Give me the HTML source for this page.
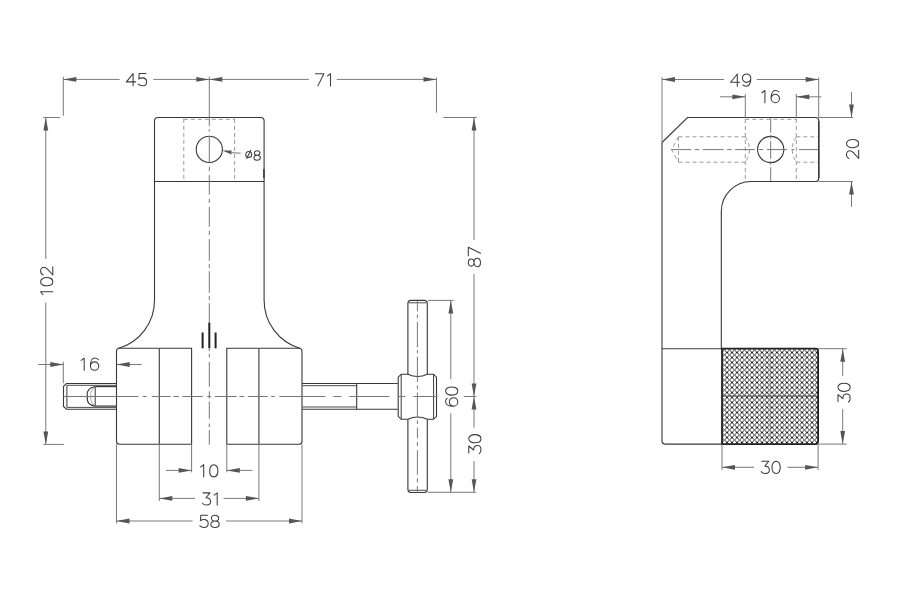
<!DOCTYPE html>
<html><head><meta charset="utf-8"><style>
html,body{margin:0;padding:0;background:#fff;width:900px;height:600px;overflow:hidden}
svg{display:block;will-change:transform;font-family:"Liberation Sans",sans-serif}
</style></head><body>
<svg width="900" height="600" viewBox="0 0 900 600">
<rect width="900" height="600" fill="#fff"/>
<path d="M154.5,300 L154.5,121.0 Q154.5,117.5 158.0,117.5 L260.6,117.5 Q264.1,117.5 264.1,121.0 L264.1,300" fill="none" stroke="#383838" stroke-width="1.1"/>
<line x1="154.5" y1="181.5" x2="264.1" y2="181.5" stroke="#383838" stroke-width="1.1"/>
<line x1="263.90000000000003" y1="169" x2="263.90000000000003" y2="178" stroke="#333" stroke-width="1.4"/>
<path d="M154.5,300 A50,50 0 0 1 118.7,348.3" fill="none" stroke="#383838" stroke-width="1.1"/>
<path d="M264.1,300 A50,50 0 0 0 299.9,348.3" fill="none" stroke="#383838" stroke-width="1.1"/>
<line x1="183.8" y1="118.9" x2="183.8" y2="181" stroke="#999" stroke-width="1.0" stroke-dasharray="4 3" stroke-dashoffset="0"/>
<line x1="234.6" y1="118.9" x2="234.6" y2="181" stroke="#999" stroke-width="1.0" stroke-dasharray="4 3" stroke-dashoffset="0"/>
<line x1="183.8" y1="119.3" x2="234.6" y2="119.3" stroke="#999" stroke-width="1.0" stroke-dasharray="4 3" stroke-dashoffset="0"/>
<circle cx="209.3" cy="149.4" r="13.1" fill="none" stroke="#383838" stroke-width="1.1"/>
<path d="M159.3,348.3 L119.5,348.3 Q116.5,348.3 116.5,351.3 L116.5,441.3 Q116.5,444.3 119.5,444.3 L159.3,444.3" fill="none" stroke="#383838" stroke-width="1.1"/>
<line x1="159.3" y1="348.3" x2="159.3" y2="444.3" stroke="#383838" stroke-width="1.1"/>
<path d="M159.3,348.3 L191.6,348.3 L191.6,444.3 L159.3,444.3" fill="none" stroke="#383838" stroke-width="1.1"/>
<path d="M258.9,348.3 L226.8,348.3 L226.8,444.3 L258.9,444.3" fill="none" stroke="#383838" stroke-width="1.1"/>
<line x1="258.9" y1="348.3" x2="258.9" y2="444.3" stroke="#383838" stroke-width="1.1"/>
<path d="M258.9,348.3 L299,348.3 Q302,348.3 302,351.3 L302,441.3 Q302,444.3 299,444.3 L258.9,444.3" fill="none" stroke="#383838" stroke-width="1.1"/>
<line x1="202.6" y1="332.5" x2="202.6" y2="348.3" stroke="#222" stroke-width="2.0"/>
<line x1="209.3" y1="322.5" x2="209.3" y2="348.3" stroke="#222" stroke-width="2.0"/>
<line x1="215.6" y1="332.5" x2="215.6" y2="348.3" stroke="#222" stroke-width="2.0"/>
<path d="M116.5,383.5 L66.5,383.5 L63.5,386.3 L63.5,406.4 L66.5,409.2 L116.5,409.2" fill="none" stroke="#383838" stroke-width="1.1"/>
<line x1="66.9" y1="385.3" x2="66.9" y2="407.3" stroke="#383838" stroke-width="1.0"/>
<line x1="66.9" y1="385.3" x2="116.5" y2="385.3" stroke="#4a4a4a" stroke-width="1.0"/>
<line x1="66.9" y1="407.4" x2="116.5" y2="407.4" stroke="#4a4a4a" stroke-width="1.0"/>
<line x1="95.2" y1="386.6" x2="116.5" y2="386.6" stroke="#383838" stroke-width="1.2"/>
<line x1="95.2" y1="406.1" x2="116.5" y2="406.1" stroke="#383838" stroke-width="1.2"/>
<line x1="95.2" y1="386.6" x2="95.2" y2="406.1" stroke="#383838" stroke-width="1.0"/>
<path d="M95.2,386.6 Q86,388 87.4,396.4 Q86,405 95.2,406.1" fill="none" stroke="#383838" stroke-width="1.1"/>
<path d="M95.2,387 Q90,390 90.8,396.4 Q90,403 95.2,405.8" fill="none" stroke="#999" stroke-width="0.8"/>
<path d="M302,383.5 L397.8,383.5" fill="none" stroke="#383838" stroke-width="1.1"/>
<path d="M302,409.2 L397.8,409.2" fill="none" stroke="#383838" stroke-width="1.1"/>
<line x1="302" y1="385.7" x2="356.7" y2="385.7" stroke="#4a4a4a" stroke-width="1.0"/>
<line x1="302" y1="407.0" x2="356.7" y2="407.0" stroke="#4a4a4a" stroke-width="1.0"/>
<line x1="356.7" y1="383.5" x2="356.7" y2="409.2" stroke="#383838" stroke-width="1.1"/>
<path d="M407.9,374.2 L407.9,303.4 Q407.9,300.4 410.9,300.4 L424.3,300.4 Q427.3,300.4 427.3,303.4 L427.3,374.2" fill="none" stroke="#383838" stroke-width="1.1"/>
<line x1="408.9" y1="302.8" x2="426.3" y2="302.8" stroke="#383838" stroke-width="0.9"/>
<path d="M407.9,419.3 L407.9,489.5 Q407.9,492.5 410.9,492.5 L424.3,492.5 Q427.3,492.5 427.3,489.5 L427.3,419.3" fill="none" stroke="#383838" stroke-width="1.1"/>
<line x1="408.9" y1="490.3" x2="426.3" y2="490.3" stroke="#383838" stroke-width="0.9"/>
<path d="M401.2,374.2 L407.9,374.2 Q417.6,378.8 427.3,374.2 L433.5,374.2 L436.5,377.2 L436.5,416.3 L433.5,419.3 L427.3,419.3 Q417.6,414.7 407.9,419.3 L401.2,419.3 L398.2,416.3 L398.2,377.2 Z" fill="none" stroke="#383838" stroke-width="1.1"/>
<line x1="401.2" y1="374.7" x2="401.2" y2="418.8" stroke="#383838" stroke-width="1.0"/>
<line x1="433.6" y1="374.7" x2="433.6" y2="418.8" stroke="#383838" stroke-width="1.0"/>
<line x1="209.3" y1="76.7" x2="209.3" y2="117.5" stroke="#7a7a7a" stroke-width="1.0"/>
<line x1="209.3" y1="117.5" x2="209.3" y2="126.2" stroke="#777" stroke-width="1.0"/>
<line x1="209.3" y1="129.2" x2="209.3" y2="131.7" stroke="#777" stroke-width="1.0"/>
<line x1="209.3" y1="136" x2="209.3" y2="162.2" stroke="#777" stroke-width="1.0"/>
<line x1="209.3" y1="166.7" x2="209.3" y2="171.2" stroke="#777" stroke-width="1.0"/>
<line x1="209.3" y1="175" x2="209.3" y2="194.6" stroke="#777" stroke-width="1.0"/>
<line x1="209.3" y1="198.75" x2="209.3" y2="202.9" stroke="#777" stroke-width="1.0"/>
<line x1="209.3" y1="207" x2="209.3" y2="226.7" stroke="#777" stroke-width="1.0"/>
<line x1="209.3" y1="230.8" x2="209.3" y2="235" stroke="#777" stroke-width="1.0"/>
<line x1="209.3" y1="239.2" x2="209.3" y2="260.7" stroke="#777" stroke-width="1.0"/>
<line x1="209.3" y1="264" x2="209.3" y2="268" stroke="#777" stroke-width="1.0"/>
<line x1="209.3" y1="271.3" x2="209.3" y2="292.7" stroke="#777" stroke-width="1.0"/>
<line x1="209.3" y1="296" x2="209.3" y2="300" stroke="#777" stroke-width="1.0"/>
<line x1="209.3" y1="303.3" x2="209.3" y2="322" stroke="#777" stroke-width="1.0"/>
<line x1="209.3" y1="348.3" x2="209.3" y2="351" stroke="#777" stroke-width="1.0"/>
<line x1="209.3" y1="353.8" x2="209.3" y2="357.4" stroke="#777" stroke-width="1.0"/>
<line x1="209.3" y1="362" x2="209.3" y2="386.8" stroke="#777" stroke-width="1.0"/>
<line x1="209.3" y1="391.4" x2="209.3" y2="398.7" stroke="#777" stroke-width="1.0"/>
<line x1="209.3" y1="401.5" x2="209.3" y2="418.9" stroke="#777" stroke-width="1.0"/>
<line x1="209.3" y1="423.5" x2="209.3" y2="427.2" stroke="#777" stroke-width="1.0"/>
<line x1="209.3" y1="430" x2="209.3" y2="444.6" stroke="#777" stroke-width="1.0"/>
<line x1="63.5" y1="396.5" x2="138.3" y2="396.5" stroke="#777" stroke-width="1.0"/>
<line x1="142.8" y1="396.5" x2="146.7" y2="396.5" stroke="#777" stroke-width="1.0"/>
<line x1="151.7" y1="396.5" x2="170.6" y2="396.5" stroke="#777" stroke-width="1.0"/>
<line x1="173.3" y1="396.5" x2="178.9" y2="396.5" stroke="#777" stroke-width="1.0"/>
<line x1="182.2" y1="396.5" x2="202.8" y2="396.5" stroke="#777" stroke-width="1.0"/>
<line x1="207.2" y1="396.5" x2="211.1" y2="396.5" stroke="#777" stroke-width="1.0"/>
<line x1="215" y1="396.5" x2="236.7" y2="396.5" stroke="#777" stroke-width="1.0"/>
<line x1="239.4" y1="396.5" x2="243.9" y2="396.5" stroke="#777" stroke-width="1.0"/>
<line x1="247.8" y1="396.5" x2="267.8" y2="396.5" stroke="#777" stroke-width="1.0"/>
<line x1="271.1" y1="396.5" x2="275" y2="396.5" stroke="#777" stroke-width="1.0"/>
<line x1="279.4" y1="396.5" x2="325.3" y2="396.5" stroke="#777" stroke-width="1.0"/>
<line x1="333.3" y1="396.5" x2="341.3" y2="396.5" stroke="#777" stroke-width="1.0"/>
<line x1="349.3" y1="396.5" x2="389.3" y2="396.5" stroke="#777" stroke-width="1.0"/>
<line x1="398.7" y1="396.5" x2="405.3" y2="396.5" stroke="#777" stroke-width="1.0"/>
<line x1="413.3" y1="396.5" x2="437.3" y2="396.5" stroke="#777" stroke-width="1.0"/>
<line x1="417.4" y1="300.7" x2="417.4" y2="311.3" stroke="#777" stroke-width="1.0"/>
<line x1="417.4" y1="314.7" x2="417.4" y2="318" stroke="#777" stroke-width="1.0"/>
<line x1="417.4" y1="322" x2="417.4" y2="347.3" stroke="#777" stroke-width="1.0"/>
<line x1="417.4" y1="350" x2="417.4" y2="353.3" stroke="#777" stroke-width="1.0"/>
<line x1="417.4" y1="356.7" x2="417.4" y2="382" stroke="#777" stroke-width="1.0"/>
<line x1="417.4" y1="385.5" x2="417.4" y2="389" stroke="#777" stroke-width="1.0"/>
<line x1="417.4" y1="392.5" x2="417.4" y2="417" stroke="#777" stroke-width="1.0"/>
<line x1="417.4" y1="420.5" x2="417.4" y2="424" stroke="#777" stroke-width="1.0"/>
<line x1="417.4" y1="427.5" x2="417.4" y2="438.4" stroke="#777" stroke-width="1.0"/>
<line x1="417.4" y1="441.9" x2="417.4" y2="446.1" stroke="#777" stroke-width="1.0"/>
<line x1="417.4" y1="450.3" x2="417.4" y2="474.8" stroke="#777" stroke-width="1.0"/>
<line x1="417.4" y1="478.3" x2="417.4" y2="482.5" stroke="#777" stroke-width="1.0"/>
<line x1="417.4" y1="486" x2="417.4" y2="493" stroke="#777" stroke-width="1.0"/>
<line x1="63.3" y1="76.7" x2="63.3" y2="115.8" stroke="#7a7a7a" stroke-width="1.0"/>
<line x1="436.5" y1="77.6" x2="436.5" y2="112.6" stroke="#7a7a7a" stroke-width="1.0"/>
<line x1="63.3" y1="79.4" x2="119.7" y2="79.4" stroke="#7a7a7a" stroke-width="1.0"/>
<line x1="153.3" y1="79.4" x2="308.9" y2="79.4" stroke="#7a7a7a" stroke-width="1.0"/>
<line x1="336.7" y1="79.4" x2="436.5" y2="79.4" stroke="#7a7a7a" stroke-width="1.0"/>
<polygon points="63.30,79.40 76.30,77.00 76.30,81.80" fill="#555"/>
<polygon points="209.30,79.40 196.30,77.00 196.30,81.80" fill="#555"/>
<polygon points="209.30,79.40 222.30,77.00 222.30,81.80" fill="#555"/>
<polygon points="436.50,79.40 423.50,77.00 423.50,81.80" fill="#555"/>
<g transform="translate(126.40,73.58) scale(1.0)" fill="none" stroke="#3c3c3c" stroke-width="1.050" stroke-linecap="round" stroke-linejoin="round"><path transform="translate(0.00,0)" d="M6.7,12.2 L6.7,0 L0,8.3 L9.2,8.3"/><path transform="translate(11.80,0)" d="M7.8,0 L1.0,0 L0.6,5.4 C1.6,4.6 2.8,4.3 4.2,4.3 C6.6,4.3 8.4,6.0 8.4,8.3 C8.4,10.6 6.6,12.2 4.3,12.2 C2.6,12.2 1.0,11.6 0,10.6"/></g>
<g transform="translate(315.50,73.68) scale(1.0)" fill="none" stroke="#3c3c3c" stroke-width="1.050" stroke-linecap="round" stroke-linejoin="round"><path transform="translate(0.00,0)" d="M0,0 L8.4,0 L2.4,12.2"/><path transform="translate(12.00,0)" d="M0,2.3 L3.0,0 L3.0,12.2"/></g>
<line x1="43.3" y1="117.5" x2="60" y2="117.5" stroke="#7a7a7a" stroke-width="1.0"/>
<line x1="43.3" y1="444.4" x2="63.9" y2="444.4" stroke="#7a7a7a" stroke-width="1.0"/>
<line x1="45.8" y1="117.5" x2="45.8" y2="259" stroke="#7a7a7a" stroke-width="1.0"/>
<line x1="45.8" y1="302.5" x2="45.8" y2="444.4" stroke="#7a7a7a" stroke-width="1.0"/>
<polygon points="45.80,117.50 43.40,130.50 48.20,130.50" fill="#555"/>
<polygon points="45.80,444.40 43.40,431.40 48.20,431.40" fill="#555"/>
<g transform="translate(53.30,280.80) rotate(-90) translate(-14.00,-12.72) scale(1.0)" fill="none" stroke="#3c3c3c" stroke-width="1.050" stroke-linecap="round" stroke-linejoin="round"><path transform="translate(0.00,0)" d="M0,2.3 L3.0,0 L3.0,12.2"/><path transform="translate(9.00,0)" d="M4.1,0 C1.6,0 0,2.6 0,6.1 C0,9.6 1.6,12.2 4.1,12.2 C6.6,12.2 8.2,9.6 8.2,6.1 C8.2,2.6 6.6,0 4.1,0 Z"/><path transform="translate(19.80,0)" d="M0.1,2.6 C0.6,0.9 2.2,0 4.0,0 C6.2,0 7.8,1.4 7.8,3.3 C7.8,4.7 6.9,5.8 5.8,6.9 L0,12.2 L8.2,12.2"/></g>
<line x1="38.3" y1="364.5" x2="63.3" y2="364.5" stroke="#7a7a7a" stroke-width="1.0"/>
<line x1="63.3" y1="361.7" x2="63.3" y2="383.3" stroke="#7a7a7a" stroke-width="1.0"/>
<line x1="116.7" y1="364.5" x2="141.7" y2="364.5" stroke="#7a7a7a" stroke-width="1.0"/>
<polygon points="63.30,364.50 50.30,362.10 50.30,366.90" fill="#555"/>
<polygon points="116.70,364.50 129.70,362.10 129.70,366.90" fill="#555"/>
<g transform="translate(81.20,358.07) scale(1.0)" fill="none" stroke="#3c3c3c" stroke-width="1.050" stroke-linecap="round" stroke-linejoin="round"><path transform="translate(0.00,0)" d="M0,2.3 L3.0,0 L3.0,12.2"/><path transform="translate(9.00,0)" d="M8.0,1.5 C7.2,0.5 6.0,0 4.6,0 C1.8,0 0.2,3.0 0.2,7.9 M4.4,3.8 C2.1,3.8 0.2,5.7 0.2,8.0 C0.2,10.3 2.1,12.2 4.4,12.2 C6.7,12.2 8.6,10.3 8.6,8.0 C8.6,5.7 6.7,3.8 4.4,3.8 Z"/></g>
<line x1="191.6" y1="444.3" x2="191.6" y2="472.4" stroke="#7a7a7a" stroke-width="1.0"/>
<line x1="226.8" y1="444.3" x2="226.8" y2="472.4" stroke="#7a7a7a" stroke-width="1.0"/>
<line x1="166" y1="470.4" x2="191.6" y2="470.4" stroke="#7a7a7a" stroke-width="1.0"/>
<line x1="226.8" y1="470.4" x2="252.5" y2="470.4" stroke="#7a7a7a" stroke-width="1.0"/>
<polygon points="191.60,470.40 178.60,468.00 178.60,472.80" fill="#555"/>
<polygon points="226.80,470.40 239.80,468.00 239.80,472.80" fill="#555"/>
<g transform="translate(200.70,464.67) scale(1.0)" fill="none" stroke="#3c3c3c" stroke-width="1.050" stroke-linecap="round" stroke-linejoin="round"><path transform="translate(0.00,0)" d="M0,2.3 L3.0,0 L3.0,12.2"/><path transform="translate(9.00,0)" d="M4.1,0 C1.6,0 0,2.6 0,6.1 C0,9.6 1.6,12.2 4.1,12.2 C6.6,12.2 8.2,9.6 8.2,6.1 C8.2,2.6 6.6,0 4.1,0 Z"/></g>
<line x1="159.3" y1="444.3" x2="159.3" y2="501" stroke="#7a7a7a" stroke-width="1.0"/>
<line x1="258.9" y1="444.3" x2="258.9" y2="501" stroke="#7a7a7a" stroke-width="1.0"/>
<line x1="159.3" y1="498.4" x2="195" y2="498.4" stroke="#7a7a7a" stroke-width="1.0"/>
<line x1="223.5" y1="498.4" x2="258.9" y2="498.4" stroke="#7a7a7a" stroke-width="1.0"/>
<polygon points="159.30,498.40 172.30,496.00 172.30,500.80" fill="#555"/>
<polygon points="258.90,498.40 245.90,496.00 245.90,500.80" fill="#555"/>
<g transform="translate(202.40,492.88) scale(1.0)" fill="none" stroke="#3c3c3c" stroke-width="1.050" stroke-linecap="round" stroke-linejoin="round"><path transform="translate(0.00,0)" d="M0.6,0 L7.6,0 L3.6,4.9 C6.3,4.9 8.2,6.5 8.2,8.7 C8.2,10.8 6.4,12.2 4.2,12.2 C2.4,12.2 0.9,11.5 0,10.4"/><path transform="translate(11.80,0)" d="M0,2.3 L3.0,0 L3.0,12.2"/></g>
<line x1="116.5" y1="444.3" x2="116.5" y2="523.4" stroke="#7a7a7a" stroke-width="1.0"/>
<line x1="302" y1="444.3" x2="302" y2="523.4" stroke="#7a7a7a" stroke-width="1.0"/>
<line x1="116.5" y1="521" x2="192.6" y2="521" stroke="#7a7a7a" stroke-width="1.0"/>
<line x1="226" y1="521" x2="302" y2="521" stroke="#7a7a7a" stroke-width="1.0"/>
<polygon points="116.50,521.00 129.50,518.60 129.50,523.40" fill="#555"/>
<polygon points="302.00,521.00 289.00,518.60 289.00,523.40" fill="#555"/>
<g transform="translate(199.80,515.27) scale(1.0)" fill="none" stroke="#3c3c3c" stroke-width="1.050" stroke-linecap="round" stroke-linejoin="round"><path transform="translate(0.00,0)" d="M7.8,0 L1.0,0 L0.6,5.4 C1.6,4.6 2.8,4.3 4.2,4.3 C6.6,4.3 8.4,6.0 8.4,8.3 C8.4,10.6 6.6,12.2 4.3,12.2 C2.6,12.2 1.0,11.6 0,10.6"/><path transform="translate(11.00,0)" d="M4.2,0 C2.2,0 0.6,1.3 0.6,3.0 C0.6,4.7 2.2,5.8 4.2,5.8 C6.2,5.8 7.8,4.7 7.8,3.0 C7.8,1.3 6.2,0 4.2,0 Z M4.2,5.8 C1.9,5.8 0,7.1 0,9.0 C0,10.9 1.9,12.2 4.2,12.2 C6.5,12.2 8.4,10.9 8.4,9.0 C8.4,7.1 6.5,5.8 4.2,5.8 Z"/></g>
<line x1="443.3" y1="117.5" x2="476.8" y2="117.5" stroke="#7a7a7a" stroke-width="1.0"/>
<line x1="474" y1="117.5" x2="474" y2="240" stroke="#7a7a7a" stroke-width="1.0"/>
<line x1="474" y1="274" x2="474" y2="427.7" stroke="#7a7a7a" stroke-width="1.0"/>
<line x1="474" y1="461" x2="474" y2="492.3" stroke="#7a7a7a" stroke-width="1.0"/>
<line x1="463.8" y1="396.5" x2="476.3" y2="396.5" stroke="#7a7a7a" stroke-width="1.0"/>
<polygon points="474.00,117.50 471.60,130.50 476.40,130.50" fill="#555"/>
<polygon points="474.00,396.50 471.60,383.50 476.40,383.50" fill="#555"/>
<polygon points="474.00,396.50 471.60,409.50 476.40,409.50" fill="#555"/>
<polygon points="474.00,492.30 471.60,479.30 476.40,479.30" fill="#555"/>
<g transform="translate(481.00,257.00) rotate(-90) translate(-9.70,-12.72) scale(1.0)" fill="none" stroke="#3c3c3c" stroke-width="1.050" stroke-linecap="round" stroke-linejoin="round"><path transform="translate(0.00,0)" d="M4.2,0 C2.2,0 0.6,1.3 0.6,3.0 C0.6,4.7 2.2,5.8 4.2,5.8 C6.2,5.8 7.8,4.7 7.8,3.0 C7.8,1.3 6.2,0 4.2,0 Z M4.2,5.8 C1.9,5.8 0,7.1 0,9.0 C0,10.9 1.9,12.2 4.2,12.2 C6.5,12.2 8.4,10.9 8.4,9.0 C8.4,7.1 6.5,5.8 4.2,5.8 Z"/><path transform="translate(11.00,0)" d="M0,0 L8.4,0 L2.4,12.2"/></g>
<g transform="translate(481.50,444.10) rotate(-90) translate(-9.50,-12.72) scale(1.0)" fill="none" stroke="#3c3c3c" stroke-width="1.050" stroke-linecap="round" stroke-linejoin="round"><path transform="translate(0.00,0)" d="M0.6,0 L7.6,0 L3.6,4.9 C6.3,4.9 8.2,6.5 8.2,8.7 C8.2,10.8 6.4,12.2 4.2,12.2 C2.4,12.2 0.9,11.5 0,10.4"/><path transform="translate(10.80,0)" d="M4.1,0 C1.6,0 0,2.6 0,6.1 C0,9.6 1.6,12.2 4.1,12.2 C6.6,12.2 8.2,9.6 8.2,6.1 C8.2,2.6 6.6,0 4.1,0 Z"/></g>
<line x1="428" y1="300.4" x2="453.6" y2="300.4" stroke="#7a7a7a" stroke-width="1.0"/>
<line x1="428" y1="492.3" x2="476.2" y2="492.3" stroke="#7a7a7a" stroke-width="1.0"/>
<line x1="450.8" y1="300.4" x2="450.8" y2="379.2" stroke="#7a7a7a" stroke-width="1.0"/>
<line x1="450.8" y1="413.3" x2="450.8" y2="492.3" stroke="#7a7a7a" stroke-width="1.0"/>
<polygon points="450.80,300.40 448.40,313.40 453.20,313.40" fill="#555"/>
<polygon points="450.80,492.30 448.40,479.30 453.20,479.30" fill="#555"/>
<g transform="translate(458.30,396.60) rotate(-90) translate(-9.70,-12.72) scale(1.0)" fill="none" stroke="#3c3c3c" stroke-width="1.050" stroke-linecap="round" stroke-linejoin="round"><path transform="translate(0.00,0)" d="M8.0,1.5 C7.2,0.5 6.0,0 4.6,0 C1.8,0 0.2,3.0 0.2,7.9 M4.4,3.8 C2.1,3.8 0.2,5.7 0.2,8.0 C0.2,10.3 2.1,12.2 4.4,12.2 C6.7,12.2 8.6,10.3 8.6,8.0 C8.6,5.7 6.7,3.8 4.4,3.8 Z"/><path transform="translate(11.20,0)" d="M4.1,0 C1.6,0 0,2.6 0,6.1 C0,9.6 1.6,12.2 4.1,12.2 C6.6,12.2 8.2,9.6 8.2,6.1 C8.2,2.6 6.6,0 4.1,0 Z"/></g>
<path d="M662.0,142.5 L687.5,117.5 L815.7,117.5 Q818.7,117.5 818.7,120.5 L818.7,178.5 Q818.7,181.5 815.7,181.5 L751,181.5 A30,30 0 0 0 721.3,211.5 L721.3,348.7" fill="none" stroke="#383838" stroke-width="1.1"/>
<path d="M662.0,142.5 L662.0,441.1 Q662.0,444.1 665.0,444.1 L722,444.1" fill="none" stroke="#383838" stroke-width="1.1"/>
<line x1="662.0" y1="348.7" x2="722" y2="348.7" stroke="#383838" stroke-width="1.1"/>
<line x1="818.9000000000001" y1="121.0" x2="818.9000000000001" y2="178.0" stroke="#383838" stroke-width="1.3"/>
<circle cx="770.7" cy="149.5" r="13.1" fill="none" stroke="#383838" stroke-width="1.1"/>
<line x1="745.3" y1="119" x2="745.3" y2="181" stroke="#999" stroke-width="1.0" stroke-dasharray="4 3" stroke-dashoffset="0"/>
<line x1="796.3" y1="119" x2="796.3" y2="181" stroke="#999" stroke-width="1.0" stroke-dasharray="4 3" stroke-dashoffset="0"/>
<line x1="745.3" y1="119.3" x2="796.3" y2="119.3" stroke="#999" stroke-width="1.0" stroke-dasharray="4 3" stroke-dashoffset="0"/>
<line x1="678.5" y1="136.8" x2="745.3" y2="136.8" stroke="#999" stroke-width="1.0" stroke-dasharray="4 3" stroke-dashoffset="0"/>
<line x1="678.5" y1="162.2" x2="745.3" y2="162.2" stroke="#999" stroke-width="1.0" stroke-dasharray="4 3" stroke-dashoffset="0"/>
<line x1="796.3" y1="136.8" x2="818" y2="136.8" stroke="#999" stroke-width="1.0" stroke-dasharray="4 3" stroke-dashoffset="0"/>
<line x1="796.3" y1="162.2" x2="818" y2="162.2" stroke="#999" stroke-width="1.0" stroke-dasharray="4 3" stroke-dashoffset="0"/>
<line x1="678.5" y1="136.8" x2="678.5" y2="162.2" stroke="#999" stroke-width="1.0" stroke-dasharray="4 3" stroke-dashoffset="0"/>
<path d="M678.5,136.8 L671.5,149.5 L678.5,162.2" fill="none" stroke="#999" stroke-width="1.0" stroke-dasharray="4 3"/>
<path d="M745.3,136.8 Q753.5,149.5 745.3,162.2" fill="none" stroke="#999" stroke-width="1.0" stroke-dasharray="4 3"/>
<path d="M796.3,136.8 Q788.1,149.5 796.3,162.2" fill="none" stroke="#999" stroke-width="1.0" stroke-dasharray="4 3"/>
<line x1="671.2" y1="149.6" x2="691.2" y2="149.6" stroke="#777" stroke-width="1.0"/>
<line x1="694.8" y1="149.6" x2="699.2" y2="149.6" stroke="#777" stroke-width="1.0"/>
<line x1="702.8" y1="149.6" x2="723.7" y2="149.6" stroke="#777" stroke-width="1.0"/>
<line x1="727.2" y1="149.6" x2="731.7" y2="149.6" stroke="#777" stroke-width="1.0"/>
<line x1="735.2" y1="149.6" x2="754.7" y2="149.6" stroke="#777" stroke-width="1.0"/>
<line x1="759.1" y1="149.6" x2="763.1" y2="149.6" stroke="#777" stroke-width="1.0"/>
<line x1="767.1" y1="149.6" x2="787.1" y2="149.6" stroke="#777" stroke-width="1.0"/>
<line x1="791.6" y1="149.6" x2="794.2" y2="149.6" stroke="#777" stroke-width="1.0"/>
<line x1="799.1" y1="149.6" x2="818.2" y2="149.6" stroke="#777" stroke-width="1.0"/>
<line x1="770.7" y1="118" x2="770.7" y2="132.7" stroke="#777" stroke-width="1.0"/>
<line x1="770.7" y1="135.2" x2="770.7" y2="138.7" stroke="#777" stroke-width="1.0"/>
<line x1="770.7" y1="141.2" x2="770.7" y2="158.7" stroke="#777" stroke-width="1.0"/>
<line x1="770.7" y1="161.3" x2="770.7" y2="164.7" stroke="#777" stroke-width="1.0"/>
<line x1="770.7" y1="167.3" x2="770.7" y2="181" stroke="#777" stroke-width="1.0"/>
<defs><pattern id="kn" width="5" height="5" patternUnits="userSpaceOnUse" patternTransform="translate(2,2.5)"><path d="M-1,-1 L6,6 M6,-1 L-1,6" stroke="#111" stroke-width="0.9"/></pattern></defs>
<rect x="722" y="348.7" width="96.1" height="95.4" fill="url(#kn)"/>
<line x1="722" y1="396" x2="818" y2="396" stroke="#4a4a4a" stroke-width="1.0"/>
<line x1="770.2" y1="348.7" x2="770.2" y2="444.1" stroke="#8a8a8a" stroke-width="1.0"/>
<path d="M722,348.7 L815.6,348.7 Q818.1,348.7 818.1,351.2 L818.1,441.6 Q818.1,444.1 815.6,444.1 L722,444.1 Z" fill="none" stroke="#222" stroke-width="1.8"/>
<line x1="662" y1="77.3" x2="662" y2="142" stroke="#7a7a7a" stroke-width="1.0"/>
<line x1="818.7" y1="77.3" x2="818.7" y2="117.5" stroke="#7a7a7a" stroke-width="1.0"/>
<line x1="662" y1="79.5" x2="724" y2="79.5" stroke="#7a7a7a" stroke-width="1.0"/>
<line x1="756.8" y1="79.5" x2="818.7" y2="79.5" stroke="#7a7a7a" stroke-width="1.0"/>
<polygon points="662.00,79.50 675.00,77.10 675.00,81.90" fill="#555"/>
<polygon points="818.70,79.50 805.70,77.10 805.70,81.90" fill="#555"/>
<g transform="translate(730.60,73.98) scale(1.0)" fill="none" stroke="#3c3c3c" stroke-width="1.050" stroke-linecap="round" stroke-linejoin="round"><path transform="translate(0.00,0)" d="M6.7,12.2 L6.7,0 L0,8.3 L9.2,8.3"/><path transform="translate(11.80,0)" d="M4.2,0 C1.9,0 0,1.9 0,4.2 C0,6.5 1.9,8.4 4.2,8.4 C6.5,8.4 8.4,6.5 8.4,4.2 C8.4,1.9 6.5,0 4.2,0 Z M8.4,4.2 C8.4,9.4 6.6,12.2 4.0,12.2 C2.6,12.2 1.4,11.6 0.6,10.8"/></g>
<line x1="745.3" y1="94" x2="745.3" y2="117.5" stroke="#7a7a7a" stroke-width="1.0"/>
<line x1="796.3" y1="94" x2="796.3" y2="117.5" stroke="#7a7a7a" stroke-width="1.0"/>
<line x1="720" y1="96.8" x2="745.3" y2="96.8" stroke="#7a7a7a" stroke-width="1.0"/>
<line x1="796.3" y1="96.8" x2="821.3" y2="96.8" stroke="#7a7a7a" stroke-width="1.0"/>
<polygon points="745.30,96.80 732.30,94.40 732.30,99.20" fill="#555"/>
<polygon points="796.30,96.80 809.30,94.40 809.30,99.20" fill="#555"/>
<g transform="translate(761.90,90.48) scale(1.0)" fill="none" stroke="#3c3c3c" stroke-width="1.050" stroke-linecap="round" stroke-linejoin="round"><path transform="translate(0.00,0)" d="M0,2.3 L3.0,0 L3.0,12.2"/><path transform="translate(9.00,0)" d="M8.0,1.5 C7.2,0.5 6.0,0 4.6,0 C1.8,0 0.2,3.0 0.2,7.9 M4.4,3.8 C2.1,3.8 0.2,5.7 0.2,8.0 C0.2,10.3 2.1,12.2 4.4,12.2 C6.7,12.2 8.6,10.3 8.6,8.0 C8.6,5.7 6.7,3.8 4.4,3.8 Z"/></g>
<line x1="818.7" y1="117.5" x2="853" y2="117.5" stroke="#7a7a7a" stroke-width="1.0"/>
<line x1="818.7" y1="181.5" x2="853" y2="181.5" stroke="#7a7a7a" stroke-width="1.0"/>
<line x1="851.5" y1="92" x2="851.5" y2="117.5" stroke="#7a7a7a" stroke-width="1.0"/>
<line x1="851.5" y1="181.5" x2="851.5" y2="206.8" stroke="#7a7a7a" stroke-width="1.0"/>
<polygon points="851.50,117.50 849.10,104.50 853.90,104.50" fill="#555"/>
<polygon points="851.50,181.50 849.10,194.50 853.90,194.50" fill="#555"/>
<g transform="translate(859.20,149.00) rotate(-90) translate(-9.50,-12.72) scale(1.0)" fill="none" stroke="#3c3c3c" stroke-width="1.050" stroke-linecap="round" stroke-linejoin="round"><path transform="translate(0.00,0)" d="M0.1,2.6 C0.6,0.9 2.2,0 4.0,0 C6.2,0 7.8,1.4 7.8,3.3 C7.8,4.7 6.9,5.8 5.8,6.9 L0,12.2 L8.2,12.2"/><path transform="translate(10.80,0)" d="M4.1,0 C1.6,0 0,2.6 0,6.1 C0,9.6 1.6,12.2 4.1,12.2 C6.6,12.2 8.2,9.6 8.2,6.1 C8.2,2.6 6.6,0 4.1,0 Z"/></g>
<line x1="818.1" y1="348.7" x2="846.7" y2="348.7" stroke="#7a7a7a" stroke-width="1.0"/>
<line x1="818.1" y1="444.1" x2="846.7" y2="444.1" stroke="#7a7a7a" stroke-width="1.0"/>
<line x1="842.7" y1="348.7" x2="842.7" y2="376" stroke="#7a7a7a" stroke-width="1.0"/>
<line x1="842.7" y1="409" x2="842.7" y2="444.1" stroke="#7a7a7a" stroke-width="1.0"/>
<polygon points="842.70,348.70 840.30,361.70 845.10,361.70" fill="#555"/>
<polygon points="842.70,444.10 840.30,431.10 845.10,431.10" fill="#555"/>
<g transform="translate(850.70,392.70) rotate(-90) translate(-9.50,-12.72) scale(1.0)" fill="none" stroke="#3c3c3c" stroke-width="1.050" stroke-linecap="round" stroke-linejoin="round"><path transform="translate(0.00,0)" d="M0.6,0 L7.6,0 L3.6,4.9 C6.3,4.9 8.2,6.5 8.2,8.7 C8.2,10.8 6.4,12.2 4.2,12.2 C2.4,12.2 0.9,11.5 0,10.4"/><path transform="translate(10.80,0)" d="M4.1,0 C1.6,0 0,2.6 0,6.1 C0,9.6 1.6,12.2 4.1,12.2 C6.6,12.2 8.2,9.6 8.2,6.1 C8.2,2.6 6.6,0 4.1,0 Z"/></g>
<line x1="722" y1="444.1" x2="722" y2="470" stroke="#7a7a7a" stroke-width="1.0"/>
<line x1="818.1" y1="444.1" x2="818.1" y2="470" stroke="#7a7a7a" stroke-width="1.0"/>
<line x1="722" y1="467.3" x2="754" y2="467.3" stroke="#7a7a7a" stroke-width="1.0"/>
<line x1="787.5" y1="467.3" x2="818.1" y2="467.3" stroke="#7a7a7a" stroke-width="1.0"/>
<polygon points="722.00,467.30 735.00,464.90 735.00,469.70" fill="#555"/>
<polygon points="818.10,467.30 805.10,464.90 805.10,469.70" fill="#555"/>
<g transform="translate(761.20,461.27) scale(1.0)" fill="none" stroke="#3c3c3c" stroke-width="1.050" stroke-linecap="round" stroke-linejoin="round"><path transform="translate(0.00,0)" d="M0.6,0 L7.6,0 L3.6,4.9 C6.3,4.9 8.2,6.5 8.2,8.7 C8.2,10.8 6.4,12.2 4.2,12.2 C2.4,12.2 0.9,11.5 0,10.4"/><path transform="translate(10.80,0)" d="M4.1,0 C1.6,0 0,2.6 0,6.1 C0,9.6 1.6,12.2 4.1,12.2 C6.6,12.2 8.2,9.6 8.2,6.1 C8.2,2.6 6.6,0 4.1,0 Z"/></g>
<polygon points="222.2,150.6 231.5,150.6 231.5,154.6" fill="#555"/>
<line x1="231.5" y1="152.7" x2="240.7" y2="153.2" stroke="#7a7a7a" stroke-width="1.0"/>
<g transform="translate(245.59,150.77) scale(0.78)" fill="none" stroke="#3c3c3c" stroke-width="1.346" stroke-linecap="round" stroke-linejoin="round"><path transform="translate(0.00,0)" d="M4.0,1.05 C1.9,1.05 0.15,2.8 0.15,4.9 C0.15,7.0 1.9,8.75 4.0,8.75 C6.1,8.75 7.85,7.0 7.85,4.9 C7.85,2.8 6.1,1.05 4.0,1.05 Z M1.4,9.9 L6.8,-0.8"/><path transform="translate(10.60,0)" d="M4.2,0 C2.2,0 0.6,1.3 0.6,3.0 C0.6,4.7 2.2,5.8 4.2,5.8 C6.2,5.8 7.8,4.7 7.8,3.0 C7.8,1.3 6.2,0 4.2,0 Z M4.2,5.8 C1.9,5.8 0,7.1 0,9.0 C0,10.9 1.9,12.2 4.2,12.2 C6.5,12.2 8.4,10.9 8.4,9.0 C8.4,7.1 6.5,5.8 4.2,5.8 Z"/></g>
</svg></body></html>
